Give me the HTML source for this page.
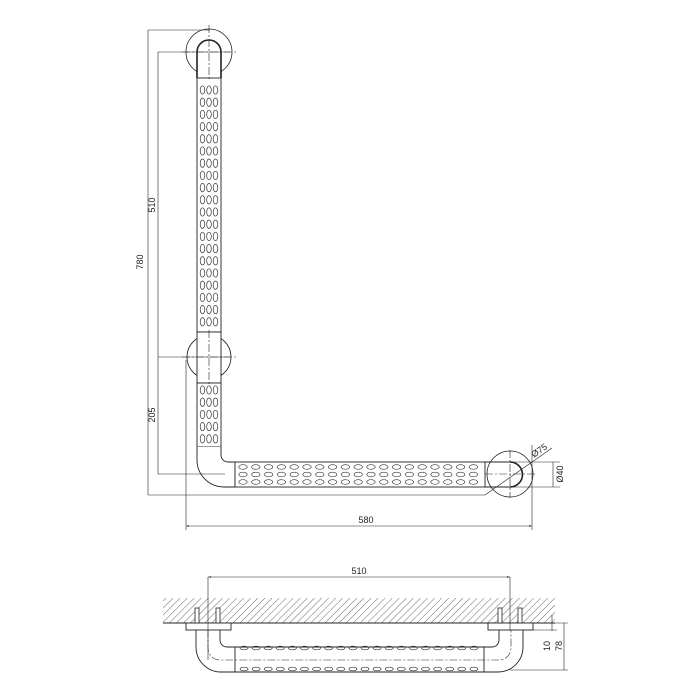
<!DOCTYPE html>
<html><head><meta charset="utf-8"><style>
html,body{margin:0;padding:0;background:#fff;width:700px;height:700px;overflow:hidden}
svg{display:block}
text{font-family:"Liberation Sans",sans-serif;font-size:9px;fill:#222}
</style></head><body>
<svg width="700" height="700" viewBox="0 0 700 700" xmlns="http://www.w3.org/2000/svg">
<defs>
<pattern id="h" width="5" height="5" patternUnits="userSpaceOnUse" patternTransform="rotate(45)">
<line x1="0" y1="0" x2="0" y2="5" stroke="#444" stroke-width="0.8"/>
</pattern>
<marker id="a" viewBox="0 0 10 10" refX="10" refY="5" markerWidth="7" markerHeight="5" orient="auto-start-reverse">
<path d="M0,2 L10,5 L0,8" fill="#333"/>
</marker>
</defs>
<g fill="none" stroke="#222" stroke-width="0.9">
<circle cx="209" cy="52" r="23" stroke-width="0.8"/>
<path d="M197,78 V52 A12,12 0 0 1 221,52 V78" fill="#fff" stroke-width="1.6"/>
<rect x="197" y="78" width="24" height="254" fill="#fff"/>
<circle cx="209" cy="357" r="22" stroke-width="0.8"/>
<rect x="197" y="332" width="24" height="51" fill="#fff"/>
<rect x="197" y="383" width="24" height="64" fill="#fff"/>
<path d="M197,447 V460 A27,27 0 0 0 224,487 H235 V462 H228 A7,7 0 0 1 221,455 V447" fill="#fff"/>
<rect x="235" y="462" width="250" height="25" fill="#fff"/>
<circle cx="510" cy="474" r="23" stroke-width="0.8"/>
<path d="M485,462 H510 A12.5,12.5 0 0 1 510,487 H485" fill="none"/>
<path d="M510,462 A12.5,12.5 0 0 1 510,487" stroke-width="1.6"/>
<g stroke-width="0.6" stroke-dasharray="8,2,2,2">
<line x1="209" y1="25" x2="209" y2="80"/><line x1="182" y1="52" x2="236" y2="52"/>
<line x1="209" y1="330" x2="209" y2="385"/><line x1="182" y1="357" x2="236" y2="357"/>
<line x1="485" y1="474" x2="537" y2="474"/><line x1="510" y1="450" x2="510" y2="498"/>
</g>
<g stroke-width="0.6">
<line x1="148" y1="30" x2="210" y2="30"/>
<line x1="148" y1="495" x2="485" y2="495"/>
<line x1="148" y1="30" x2="148" y2="495"/>
<line x1="158" y1="52" x2="230" y2="52"/>
<line x1="158" y1="357" x2="230" y2="357"/>
<line x1="158" y1="474" x2="225" y2="474"/>
<line x1="158" y1="52" x2="158" y2="474"/>
<line x1="186" y1="360" x2="186" y2="530"/>
<line x1="532" y1="445" x2="532" y2="530"/>
<line x1="186" y1="526" x2="532" y2="526" marker-start="url(#a)" marker-end="url(#a)"/>
<line x1="485" y1="495" x2="552" y2="448"/>
<line x1="510" y1="462" x2="560" y2="462"/>
<line x1="510" y1="487" x2="560" y2="487"/>
<line x1="553" y1="462" x2="553" y2="487"/>
</g>
<rect x="163" y="598" width="392" height="25" fill="url(#h)" stroke="none"/>
<line x1="163" y1="623" x2="555" y2="623"/>
<rect x="186" y="623" width="45" height="7" fill="#fff"/>
<rect x="488" y="623" width="45" height="7" fill="#fff"/>
<path d="M196,630 V647 A25,25 0 0 0 221,672 H498 A25,25 0 0 0 523,647 V630"/>
<path d="M220,630 V640 A7,7 0 0 0 227,647 H492 A7,7 0 0 0 499,640 V630"/>
<line x1="235" y1="647" x2="235" y2="672"/><line x1="484" y1="647" x2="484" y2="672"/>
<g stroke-width="0.6">
<path d="M208,630 V648 A12,12 0 0 0 220,660 H499 A12,12 0 0 0 511,648 V630" stroke-dasharray="8,2,2,2"/>
<line x1="208" y1="577" x2="208" y2="660"/><line x1="510" y1="577" x2="510" y2="630"/>
<line x1="208" y1="577" x2="510" y2="577" marker-start="url(#a)" marker-end="url(#a)"/>
<line x1="533" y1="630" x2="557" y2="630"/>
<line x1="540" y1="623" x2="568" y2="623"/>
<line x1="510" y1="670" x2="568" y2="670"/>
<line x1="552" y1="615" x2="552" y2="631"/>
<line x1="564" y1="623" x2="564" y2="670"/>
</g>
<g stroke-width="0.8" fill="#fff">
<rect x="195" y="608" width="4" height="15"/><rect x="216" y="608" width="4" height="15"/>
<rect x="498" y="608" width="4" height="15"/><rect x="518" y="608" width="4" height="15"/>
</g>
</g>
<g fill="none" stroke="#333" stroke-width="0.7" id="holes"></g>
<text x="366" y="523" text-anchor="middle">580</text>
<text x="359" y="574" text-anchor="middle">510</text>
<text transform="translate(143,262) rotate(-90)" text-anchor="middle">780</text>
<text transform="translate(155,205) rotate(-90)" text-anchor="middle">510</text>
<text transform="translate(155,415) rotate(-90)" text-anchor="middle">205</text>
<text transform="translate(563,474) rotate(-90)" text-anchor="middle">Ø40</text>
<text transform="translate(541,453) rotate(-35)" text-anchor="middle">Ø75</text>
<text transform="translate(550,646) rotate(-90)" text-anchor="middle">10</text>
<text transform="translate(562,646) rotate(-90)" text-anchor="middle">78</text>
</svg>
<script>
var g=document.getElementById('holes'),s='';
function e(cx,cy,rx,ry){s+='<ellipse cx="'+cx+'" cy="'+cy+'" rx="'+rx+'" ry="'+ry+'"/>';}
for(var r=0;r<20;r++)for(var c=0;c<3;c++)e(202.5+c*6.5,90+r*12.2,2.3,4.2);
for(var r=0;r<5;r++)for(var c=0;c<3;c++)e(202.5+c*6.5,390+r*12.2,2.3,4.2);
for(var c=0;c<19;c++)for(var r=0;r<3;r++)e(243+c*12.8,467+r*7.5,4.2,2.3);
for(var c=0;c<20;c++){e(244+c*12.1,648,4,1.8);e(244+c*12.1,669,4,1.8);}
g.innerHTML=s;
</script>
</body></html>
